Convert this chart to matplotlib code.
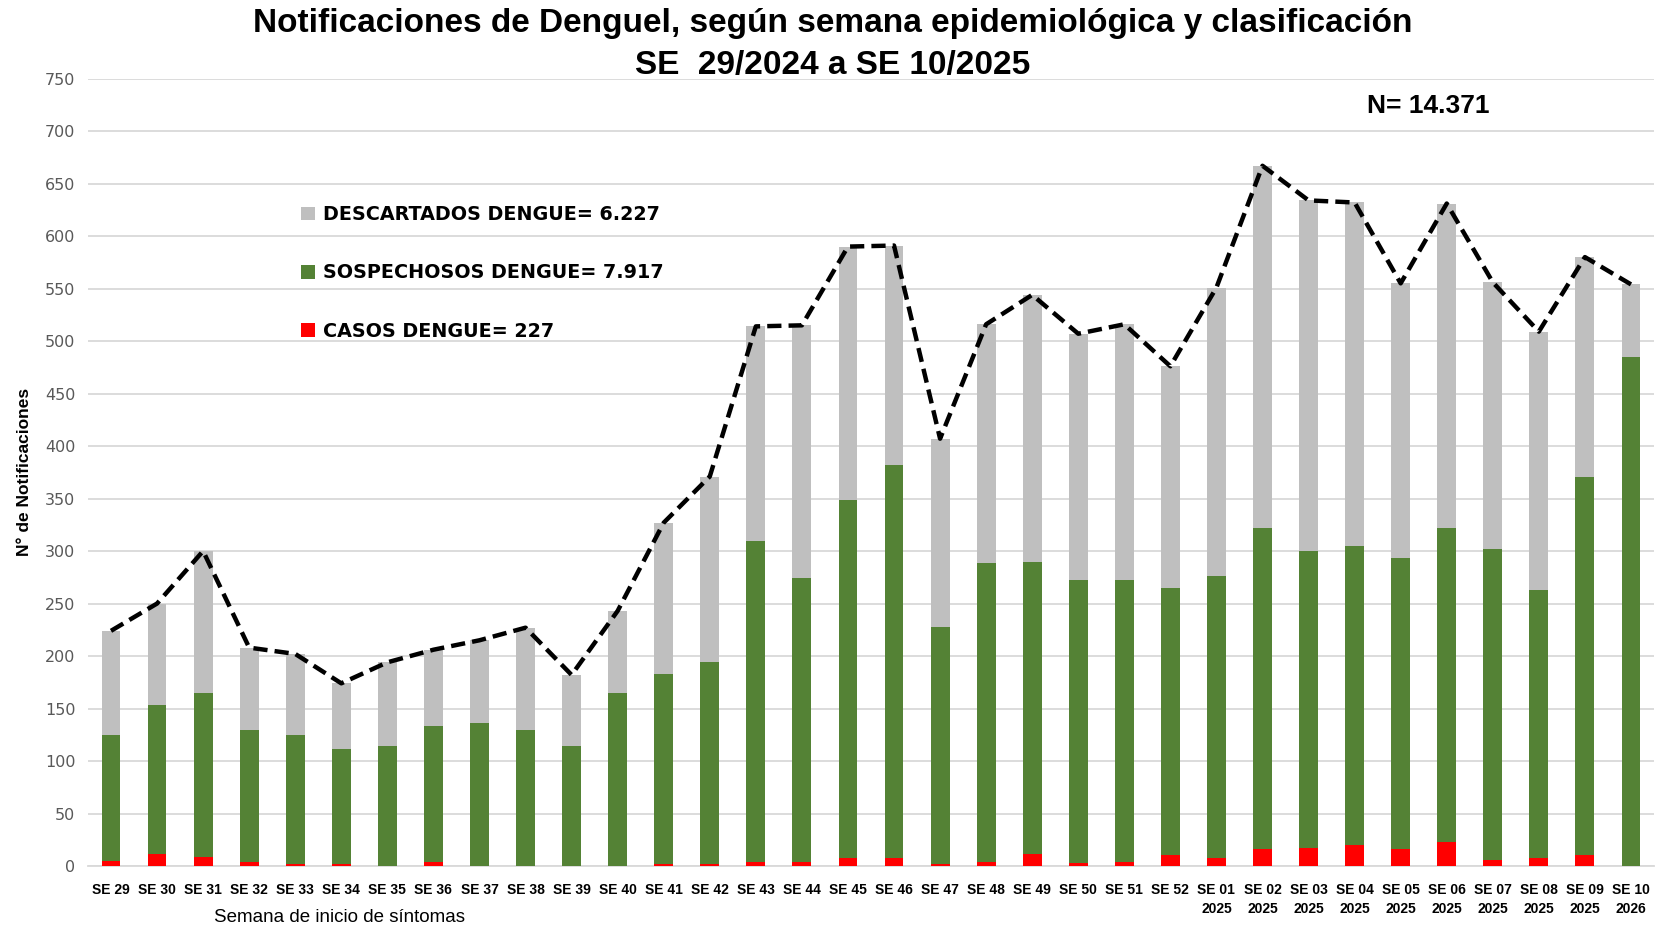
import matplotlib
matplotlib.use("Agg")
import matplotlib.pyplot as plt
import numpy as np

semanas = ["SE 29", "SE 30", "SE 31", "SE 32", "SE 33", "SE 34", "SE 35", "SE 36",
           "SE 37", "SE 38", "SE 39", "SE 40", "SE 41", "SE 42", "SE 43", "SE 44",
           "SE 45", "SE 46", "SE 47", "SE 48", "SE 49", "SE 50", "SE 51", "SE 52",
           "SE 01\n2025", "SE 02\n2025", "SE 03\n2025", "SE 04\n2025", "SE 05\n2025",
           "SE 06\n2025", "SE 07\n2025", "SE 08\n2025", "SE 09\n2025", "SE 10\n2026"]

casos = [5, 11, 9, 4, 2, 2, 0, 4, 0, 0, 0, 0, 2, 2, 4, 4, 8, 8, 2, 4, 11, 3, 4, 10,
         8, 16, 17, 20, 16, 23, 6, 8, 10, 0]
sospechosos = [120, 142, 156, 126, 123, 109, 114, 129, 136, 130, 114, 165, 181, 192,
               306, 270, 341, 374, 226, 285, 279, 269, 268, 255, 268, 306, 283, 285,
               277, 299, 296, 255, 361, 485]
descartados = [99, 97, 135, 78, 77, 63, 80, 73, 79, 97, 68, 78, 144, 177, 204, 241,
               241, 209, 179, 227, 254, 235, 244, 211, 275, 345, 334, 327, 262, 309,
               254, 246, 209, 69]

lbl_desc = "DESCARTADOS DENGUE= 6.227"
lbl_sosp = "SOSPECHOSOS DENGUE= 7.917"
lbl_casos = "CASOS DENGUE= 227"
titulo_1 = "Notificaciones de Denguel, según semana epidemiológica y clasificación"
titulo_2 = "SE  29/2024 a SE 10/2025"
n_total = "N= 14.371"

NARROW = ["Liberation Sans", "DejaVu Sans"]

fig = plt.figure(figsize=(16.66, 9.26), dpi=100)
ax = fig.add_axes([0.0528, 0.0648, 0.9400, 0.8503])

x = np.arange(len(semanas))
c = np.array(casos)
s = np.array(sospechosos)
d = np.array(descartados)
w = 0.41

b_c = ax.bar(x, c, w, color="#FF0000", zorder=3)
b_s = ax.bar(x, s, w, bottom=c, color="#548235", zorder=3)
b_d = ax.bar(x, d, w, bottom=c + s, color="#BFBFBF", zorder=3)
ax.plot(x, c + s + d, color="black", lw=3.2, ls=(0, (3.2, 1.6)), zorder=4)

ax.set_xlim(-0.5, len(semanas) - 0.5)
ax.set_ylim(0, 750)
ax.set_yticks(np.arange(0, 751, 50))
ax.yaxis.grid(True, color="#D9D9D9", lw=1.3, zorder=0)
ax.set_axisbelow(True)
for sp in ["top", "right", "left"]:
    ax.spines[sp].set_visible(False)
ax.spines["bottom"].set_color("#D9D9D9")
ax.spines["bottom"].set_linewidth(1.3)
ax.tick_params(axis="both", length=0)
ax.tick_params(axis="y", pad=9, labelsize=11.5, labelcolor="#595959")
ax.set_xticks(x)
ax.set_xticklabels(semanas, family=NARROW, fontweight="bold", fontsize=10,
                   linespacing=1.5)
ax.tick_params(axis="x", pad=12)

ax.set_ylabel("N° de Notificaciones", family=NARROW, fontweight="bold", fontsize=12.5)
ax.yaxis.set_label_coords(-0.036, 0.5)
fig.text(0.204, 0.009, "Semana de inicio de síntomas", family=NARROW, fontsize=13.5,
         ha="center", va="center")

fig.text(0.5, 0.9747, titulo_1, family=NARROW, fontweight="bold", fontsize=24,
         ha="center", va="center")
fig.text(0.5, 0.9288, titulo_2, family=NARROW, fontweight="bold", fontsize=24,
         ha="center", va="center")
fig.text(0.857, 0.886, n_total, family=NARROW, fontweight="bold", fontsize=19,
         ha="center", va="center")

leg = ax.legend([b_d, b_s, b_c], [lbl_desc, lbl_sosp, lbl_casos],
                loc="upper left", bbox_to_anchor=(0.131, 0.849), frameon=False,
                prop={"family": "DejaVu Sans", "weight": "bold", "size": 13.8},
                handlelength=0.72, handleheight=0.72, handletextpad=0.45,
                labelspacing=2.05, borderaxespad=0)

fig.savefig("out.png", dpi=100)
